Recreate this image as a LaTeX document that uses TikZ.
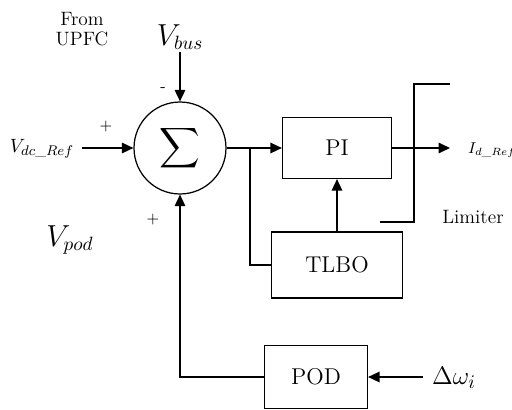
\documentclass[tikz,border=0pt]{standalone}
\usepackage{amsmath,amssymb}
\usepackage{graphicx}
\usepackage{tikz}
\usetikzlibrary{arrows.meta, positioning, calc}

\tikzset{
  blk/.style={draw, line width=0.7pt, font=\fontsize{13}{15}\selectfont},
  sig/.style={line width=0.7pt, -{Triangle[length=6.5pt,width=6pt]}},
  wire/.style={line width=0.7pt},
  sgn/.style={font=\small},
  biglbl/.style={font=\fontsize{16}{18}\selectfont}
}

\begin{document}
\begin{tikzpicture}[x=0.02cm, y=-0.02cm]
  \useasboundingbox (0,0) rectangle (512,410);
  % summing junction
  \node[draw, circle, line width=0.7pt, minimum size=1.84cm, inner sep=0pt] (sum) at (180,148)
    {\scalebox{1.6}{$\displaystyle\sum$}};
  % blocks
  \node[blk, minimum width=2.18cm, minimum height=1.22cm] (pi) at (337,148) {PI};
  \node[blk, minimum width=2.62cm, minimum height=1.32cm] (tlbo) at (337,265) {TLBO};
  \node[blk, minimum width=2.06cm, minimum height=1.26cm] (pod) at (316,377) {POD};
  % labels
  \node[font=\fontsize{11}{12}\selectfont, align=center] (upfc) at (82,29) {From\\[-1pt]UPFC};
  \node[biglbl] (vbus) at (180,37) {$V_{bus}$};
  \node[font=\fontsize{11}{13}\selectfont] (vdc) at (42,149) {$V_{dc\_Ref}$};
  \node[biglbl] (vpod) at (70,240) {$V_{pod}$};
  \node[anchor=west, font=\small, inner sep=1pt] (idref) at (466,150) {$I_{d\_Ref}$};
  \node[font=\fontsize{15}{17}\selectfont, anchor=west] (dw) at (426,378) {$\Delta\omega_i$};
  \node[font=\fontsize{11}{13}\selectfont] (limtxt) at (473,217) {Limiter};
  \node[sgn] (m1) at (163,90) {-};
  \node[sgn] (p1) at (106,127) {+};
  \node[sgn] (p2) at (153,220) {+};
  % free ends
  \coordinate (vdcin) at (82,148);
  \coordinate (vbusin) at (180,52);
  \coordinate (out) at (450,148);
  \coordinate (dwin) at (423,377);
  \coordinate (br) at (250,148);
  % connectors
  \draw[sig] (vdcin) -- (sum.west);
  \draw[sig] (vbusin) -- (sum.north);
  \draw[sig] (sum.east) -- (pi.west);
  \draw[wire] (br) |- (tlbo.west);
  \draw[sig] (tlbo.north) -- (pi.south);
  \draw[sig] (pi.east) -- (out);
  \draw[sig] (dwin) -- (pod.east);
  \draw[sig] (pod.west) -| (sum.south);
  % limiter
  \draw[wire] (450,84) -- (414,84) -- (414,222) -- (380,222);
\end{tikzpicture}
\end{document}
